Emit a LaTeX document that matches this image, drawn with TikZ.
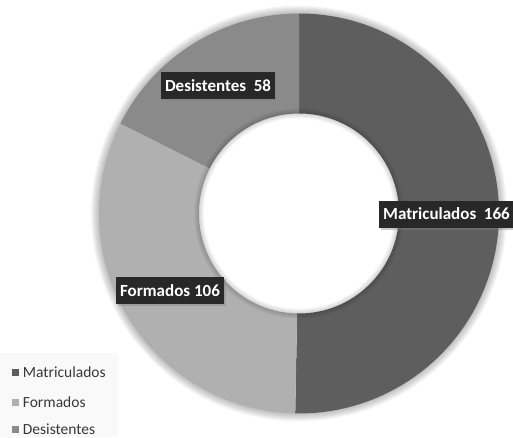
\documentclass[tikz,border=0pt]{standalone}
\usepackage{fontspec}
\setmainfont{Carlito}
\usepackage{tikz}
\usetikzlibrary{positioning,shadows,calc}
\definecolor{gray700}{HTML}{5E5E5E}
\definecolor{gray500}{HTML}{8A8A8A}
\definecolor{gray300}{HTML}{B0B0B0}
\definecolor{gray900}{HTML}{282828}
\definecolor{gray050}{HTML}{F9F9F9}
\definecolor{texto}{HTML}{383838}
\tikzstyle{rotulo}=[fill=gray900, text=white, font=\bfseries\fontsize{17}{19}\selectfont, minimum height=27pt, inner xsep=4pt, drop shadow={shadow xshift=2pt, shadow yshift=-2pt, opacity=0.4}]
\tikzstyle{quadrado}=[minimum size=7pt, inner sep=0pt]
\tikzstyle{legenda}=[text=texto, font=\fontsize{15.5}{17}\selectfont, inner sep=1pt, anchor=west]

\begin{document}
\begin{tikzpicture}[x=1pt, y=1pt]
		\useasboundingbox (0,0) rectangle (513,437);
		\fill[white] (0,0) rectangle (513,437);
		\fill[gray050] (0,0) rectangle (118,84);
		\coordinate (c) at (299,223.5);
		% sombra
		\foreach \w in {2,4,...,16}
			\draw[black, opacity=0.03, line width=\w pt] (c) circle[radius=200pt];
		% fatias
		\fill[gray700] (c) ++(90:200pt) arc[start angle=90, end angle=-91.09, radius=200pt]
			-- ($(c)+(-91.09:100pt)$) arc[start angle=-91.09, end angle=90, radius=100pt] -- cycle;
		\fill[gray300] (c) ++(-91.09:200pt) arc[start angle=-91.09, end angle=-206.73, radius=200pt]
			-- ($(c)+(-206.73:100pt)$) arc[start angle=-206.73, end angle=-91.09, radius=100pt] -- cycle;
		\fill[gray500] (c) ++(-206.73:200pt) arc[start angle=-206.73, end angle=-270, radius=200pt]
			-- ($(c)+(-270:100pt)$) arc[start angle=-270, end angle=-206.73, radius=100pt] -- cycle;
		\foreach \w in {2,4,...,10}
			\draw[black, opacity=0.03, line width=\w pt] (c) circle[radius=100pt];
		% rotulos
		\node[rotulo](r1) at (218,351) {Desistentes\ \ 58};
		\node[rotulo, anchor=west](r2) at (379,223) {Matriculados\ \ 166};
		\node[rotulo](r3) at (170,146.5) {Formados 106};
		% legenda
		\node[quadrado, fill=gray700](q1) at (15,65) {};
		\node[quadrado, fill=gray300](q2) at (15,35) {};
		\node[quadrado, fill=gray500](q3) at (15,8) {};
		\node[legenda, right=3pt of q1](l1) {Matriculados};
		\node[legenda, right=3pt of q2](l2) {Formados};
		\node[legenda, right=3pt of q3](l3) {Desistentes};
	\end{tikzpicture}
\end{document}
